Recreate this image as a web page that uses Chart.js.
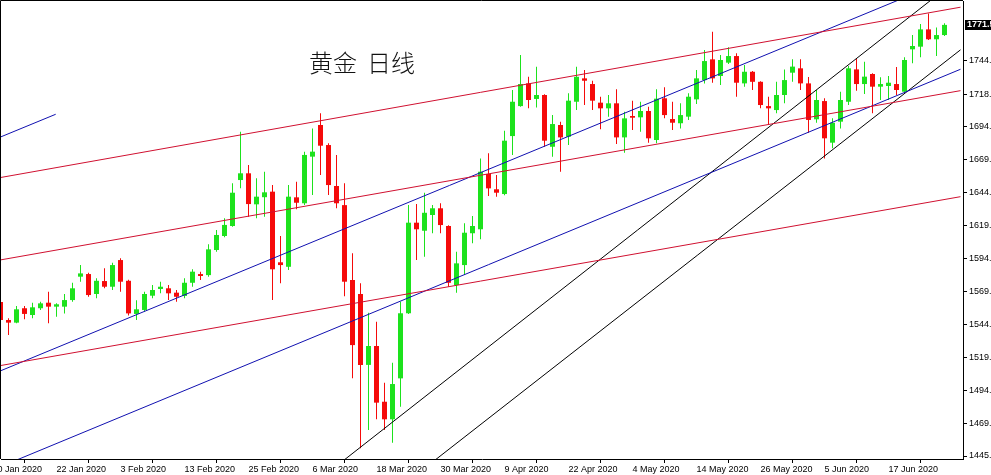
<!DOCTYPE html>
<html>
<head>
<meta charset="utf-8">
<script src="https://cdn.jsdelivr.net/npm/chart.js@4.4.1/dist/chart.umd.min.js"></script>
<style>
html, body { margin: 0; padding: 0; background: #fff; overflow: hidden; }
canvas { display: block; }
</style>
</head>
<body>
<canvas id="goldDaily" width="991" height="475"></canvas>
<script>
// XAUUSD daily candles, 13 Jan - 26 Jun 2020 (one entry per trading day)
const dates = ['13 Jan','14 Jan','15 Jan','16 Jan','17 Jan','20 Jan','21 Jan','22 Jan','23 Jan','24 Jan','27 Jan','28 Jan','29 Jan','30 Jan','31 Jan',
  '3 Feb','4 Feb','5 Feb','6 Feb','7 Feb','10 Feb','11 Feb','12 Feb','13 Feb','14 Feb','17 Feb','18 Feb','19 Feb','20 Feb','21 Feb','24 Feb','25 Feb','26 Feb','27 Feb','28 Feb',
  '2 Mar','3 Mar','4 Mar','5 Mar','6 Mar','9 Mar','10 Mar','11 Mar','12 Mar','13 Mar','16 Mar','17 Mar','18 Mar','19 Mar','20 Mar','23 Mar','24 Mar','25 Mar','26 Mar','27 Mar','30 Mar','31 Mar',
  '1 Apr','2 Apr','3 Apr','6 Apr','7 Apr','8 Apr','9 Apr','13 Apr','14 Apr','15 Apr','16 Apr','17 Apr','20 Apr','21 Apr','22 Apr','23 Apr','24 Apr','27 Apr','28 Apr','29 Apr','30 Apr',
  '1 May','4 May','5 May','6 May','7 May','8 May','11 May','12 May','13 May','14 May','15 May','18 May','19 May','20 May','21 May','22 May','25 May','26 May','27 May','28 May','29 May',
  '1 Jun','2 Jun','3 Jun','4 Jun','5 Jun','8 Jun','9 Jun','10 Jun','11 Jun','12 Jun','15 Jun','16 Jun','17 Jun','18 Jun','19 Jun','22 Jun','23 Jun','24 Jun','25 Jun','26 Jun'];

const opens = [1561.6,1548.0,1546.0,1556.9,1551.8,1556.9,1561.1,1558.1,1558.1,1563.1,1580.8,1582.8,1567.7,1577.5,1573.2,
  1593.4,1577.7,1552.6,1555.6,1566.4,1571.5,1572.0,1568.7,1566.2,1576.2,1582.8,1582.0,1601.0,1611.6,1619.2,1654.0,1659.1,1635.6,1641.0,1645.2,
  1591.7,1588.3,1640.9,1636.4,1671.7,1695.7,1680.5,1649.5,1635.0,1578.3,1567.7,1514.0,1528.3,1486.1,1472.8,1503.8,1553.1,1621.7,1615.6,1627.5,1632.6,1619.2,
  1574.5,1589.6,1613.7,1616.7,1658.6,1647.0,1643.4,1687.3,1710.0,1727.2,1715.4,1718.4,1679.2,1695.7,1686.8,1713.3,1731.0,1726.7,1712.6,1708.3,1712.1,
  1686.3,1702.5,1701.5,1706.3,1684.3,1715.9,1700.2,1697.0,1702.0,1715.1,1729.7,1745.4,1732.8,1742.9,1747.9,1727.2,1736.0,1728.4,1710.0,1707.0,1718.4,
  1735.3,1738.6,1727.2,1700.0,1713.8,1682.3,1698.2,1713.3,1737.8,1726.7,1734.3,1724.7,1725.2,1726.7,1720.9,1753.0,1755.0,1768.1,1760.6,1763.8];

const highs = [1563.0,1549.3,1558.6,1558.6,1561.1,1561.8,1569.4,1560.6,1567.7,1576.2,1589.6,1583.8,1579.6,1587.1,1591.4,
  1594.7,1578.5,1563.0,1569.4,1574.5,1577.0,1574.5,1570.7,1579.6,1586.4,1584.6,1605.3,1616.1,1625.0,1651.5,1690.6,1665.4,1655.3,1660.3,1650.2,
  1611.6,1650.2,1652.7,1675.5,1693.1,1704.5,1681.8,1673.0,1651.5,1598.5,1575.8,1553.5,1546.7,1500.5,1515.7,1561.8,1635.1,1635.8,1644.4,1635.0,1636.4,1619.8,
  1599.7,1621.2,1626.8,1670.4,1674.2,1657.8,1691.3,1722.2,1748.7,1732.2,1739.8,1719.0,1703.2,1698.2,1719.7,1739.8,1737.3,1729.2,1717.1,1718.4,1722.7,
  1705.7,1714.1,1713.3,1709.5,1722.7,1724.2,1713.3,1712.1,1719.7,1737.3,1752.5,1766.3,1748.7,1754.5,1750.0,1741.1,1736.5,1728.9,1717.1,1728.4,1737.8,
  1745.4,1745.4,1732.1,1722.2,1715.9,1700.7,1720.9,1740.3,1746.2,1743.6,1734.8,1731.8,1732.8,1739.7,1746.9,1763.8,1772.2,1780.2,1769.6,1772.7];

const lows = [1546.0,1536.6,1545.5,1548.5,1549.3,1555.6,1545.5,1550.5,1553.0,1561.8,1577.0,1565.6,1564.4,1572.0,1570.7,
  1569.4,1551.5,1548.0,1554.3,1564.4,1568.2,1563.1,1561.8,1564.4,1573.2,1578.3,1580.8,1599.7,1610.6,1618.7,1647.7,1626.2,1625.0,1626.2,1563.1,
  1575.8,1585.9,1631.8,1635.0,1642.7,1657.8,1642.7,1632.6,1566.0,1503.8,1450.8,1464.7,1472.8,1464.7,1455.1,1482.3,1552.5,1593.4,1595.9,1613.7,1613.7,1573.2,
  1568.7,1582.1,1606.1,1609.1,1641.9,1641.4,1642.5,1673.0,1709.5,1708.3,1709.0,1679.2,1671.7,1660.3,1680.5,1707.0,1710.8,1707.0,1692.4,1702.0,1681.3,
  1674.7,1691.9,1690.6,1682.3,1681.8,1700.7,1691.9,1693.1,1699.5,1711.6,1727.2,1727.7,1726.0,1741.9,1717.1,1724.7,1722.2,1708.3,1695.7,1704.5,1712.1,
  1728.4,1722.2,1689.8,1697.4,1670.4,1678.0,1693.1,1710.8,1721.6,1719.1,1704.5,1714.6,1714.6,1718.4,1720.4,1742.4,1746.9,1760.0,1748.0,1763.1];

const closes = [1548.0,1546.0,1556.1,1552.6,1557.6,1560.6,1558.1,1559.9,1563.1,1572.0,1583.3,1566.9,1577.7,1573.2,1589.6,
  1577.0,1553.0,1556.1,1567.7,1570.7,1573.2,1568.2,1565.6,1576.2,1584.6,1581.3,1601.5,1612.4,1620.0,1644.4,1659.1,1635.8,1641.4,1644.7,1586.4,
  1589.6,1641.4,1636.8,1673.0,1675.5,1680.0,1650.2,1636.4,1577.0,1529.0,1513.9,1528.3,1485.4,1472.8,1499.5,1553.1,1621.7,1616.7,1629.2,1632.6,1619.9,1576.2,
  1590.9,1614.1,1619.2,1660.3,1647.7,1644.4,1683.8,1713.3,1726.7,1714.6,1718.4,1683.8,1696.4,1686.3,1714.1,1732.2,1729.2,1714.1,1708.3,1712.1,1686.3,
  1700.7,1701.2,1706.3,1685.6,1715.6,1703.2,1697.4,1703.2,1717.1,1731.0,1744.1,1731.0,1744.9,1747.9,1727.7,1736.0,1728.4,1710.8,1708.3,1718.4,1729.7,
  1739.9,1727.2,1699.5,1714.6,1685.6,1697.4,1714.6,1738.6,1726.7,1732.3,1724.7,1726.7,1727.7,1722.2,1744.9,1755.5,1768.1,1760.6,1763.8,1771.5];

// trend lines: [bar index, price] end points
const redLine1 = [[0, 1655.9], [120, 1784.9]];
const redLine2 = [[0, 1593.5], [120, 1721.7]];
const redLine3 = [[0, 1513.5], [120, 1641.4]];
const blueShort = [[-1, 1684.1], [6.9, 1703.8]];
const blueLine1 = [[0, 1509.5], [120, 1809.7]];
const blueLine2 = [[0, 1436.9], [120, 1737.9]];
const blackLine1 = [[37, 1413.7], [120, 1807.8]];
const blackLine2 = [[50, 1421.5], [120, 1752.6]];

// axis ticks
const xTickPos = [-1, 7, 15, 23, 31, 39, 47, 55, 63, 71, 79, 87, 95, 103, 111];
const xTickLabels = ['10 Jan 2020','22 Jan 2020','3 Feb 2020','13 Feb 2020','25 Feb 2020','6 Mar 2020','18 Mar 2020',
  '30 Mar 2020','9 Apr 2020','22 Apr 2020','4 May 2020','14 May 2020','26 May 2020','5 Jun 2020','17 Jun 2020'];
const yTickVals = [1445.00, 1469.93, 1494.86, 1519.79, 1544.72, 1569.65, 1594.58, 1619.51, 1644.44, 1669.37, 1694.30, 1718.99, 1744.16];

const UP = '#1de21d';
const DOWN = '#f50a0a';
const candleColors = opens.map((o, i) => closes[i] >= o ? UP : DOWN);

function trend(points, color) {
  return {
    type: 'line',
    data: points.map(p => ({ x: p[0], y: p[1] })),
    borderColor: color,
    borderWidth: 1,
    pointRadius: 0,
    fill: false,
    tension: 0,
    order: 0
  };
}

// no extra room for labels that stick out: the canvas edge clips them
function noPad(s) {
  s.paddingLeft = 0;
  s.paddingRight = 0;
  s.paddingTop = 0;
  s.paddingBottom = 0;
}

// frame, title and last price box
const overlay = {
  id: 'overlay',
  afterDraw(chart) {
    const { ctx, chartArea: a, scales: { y } } = chart;
    ctx.save();
    ctx.strokeStyle = '#000';
    ctx.lineWidth = 1;
    ctx.beginPath();
    ctx.moveTo(a.left - 0.5, a.bottom);
    ctx.lineTo(a.left - 0.5, a.top - 0.5);
    ctx.lineTo(a.right, a.top - 0.5);
    ctx.stroke();

    ctx.fillStyle = '#111';
    ctx.font = '300 24px "Noto Sans CJK SC"';
    ctx.textBaseline = 'middle';
    ctx.fillText('黄金', 309, 63);
    ctx.fillText('日线', 367, 63);

    const last = closes[closes.length - 1];
    const py = Math.round(y.getPixelForValue(last));
    ctx.fillStyle = '#000';
    ctx.fillRect(a.right + 2, py - 5, 40, 10);
    ctx.fillStyle = '#fff';
    ctx.font = 'bold 9px "Liberation Sans"';
    ctx.fillText(last.toFixed(2), a.right + 4, py);
    ctx.restore();
  }
};

const config = {
  type: 'bar',
  data: {
    datasets: [
      trend(redLine1, '#d01030'),
      trend(redLine2, '#d01030'),
      trend(redLine3, '#d01030'),
      trend(blueShort, '#1010b0'),
      trend(blueLine1, '#1010b0'),
      trend(blueLine2, '#1010b0'),
      trend(blackLine1, '#000'),
      trend(blackLine2, '#000'),
      {
        label: 'body',
        data: opens.map((o, i) => ({ x: i, y: [o, closes[i]] })),
        backgroundColor: candleColors,
        barThickness: 5,
        minBarLength: 1,
        grouped: false,
        inflateAmount: 0,
        borderWidth: 0,
        order: 1
      },
      {
        label: 'wick',
        data: lows.map((l, i) => ({ x: i, y: [l, highs[i]] })),
        backgroundColor: candleColors,
        barThickness: 1,
        grouped: false,
        inflateAmount: 0,
        borderWidth: 0,
        order: 2
      }
    ]
  },
  options: {
    responsive: false,
    animation: false,
    devicePixelRatio: 1,
    layout: { padding: { left: 1, top: 1, right: 0, bottom: 0 } },
    plugins: { legend: { display: false }, tooltip: { enabled: false } },
    scales: {
      x: {
        type: 'linear',
        min: 0.0625,
        max: 120.3125,
        offset: false,
        grid: { drawOnChartArea: false, tickLength: 4, color: '#000' },
        border: { color: '#000' },
        afterBuildTicks: s => { s.ticks = xTickPos.map(v => ({ value: v })); },
        afterFit: s => { s.height = 16; noPad(s); },
        ticks: {
          autoSkip: false,
          maxRotation: 0,
          align: 'start',
          labelOffset: 0,
          padding: 1,
          color: '#000',
          font: { family: 'Liberation Sans', size: 9 },
          callback: (v, i) => xTickLabels[i]
        }
      },
      y: {
        type: 'linear',
        position: 'right',
        min: 1442.73,
        max: 1789.59,
        grid: { drawOnChartArea: false, tickLength: 4, color: '#000' },
        border: { color: '#000' },
        afterBuildTicks: s => { s.ticks = yTickVals.map(v => ({ value: v })); },
        afterFit: s => { s.width = 28; noPad(s); },
        ticks: {
          padding: 2,
          color: '#000',
          font: { family: 'Liberation Sans', size: 9 },
          callback: v => v.toFixed(2)
        }
      }
    }
  },
  plugins: [overlay]
};

new Chart(document.getElementById('goldDaily'), config);
</script>
</body>
</html>
